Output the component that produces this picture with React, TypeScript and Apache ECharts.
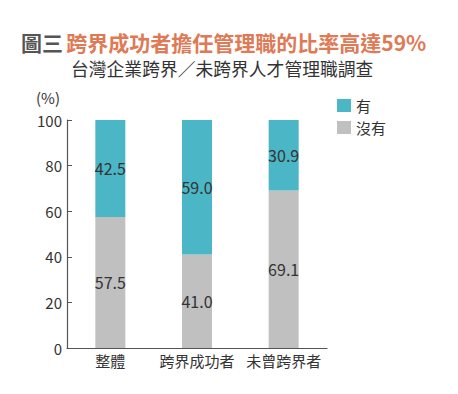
import React, { useEffect, useRef } from "react";
import * as echarts from "echarts";

const categories = ["整體", "跨界成功者", "未曾跨界者"];
const noValues = [57.5, 41.0, 69.1];
const yesValues = [42.5, 59.0, 30.9];
const yTicks = [0, 20, 40, 60, 80, 100];
const titleLead = "圖三";
const titleMain = "跨界成功者擔任管理職的比率高達59%";
const subtitle = "台灣企業跨界／未跨界人才管理職調查";
const unitLabel = "(%)";

const FONT = "'Noto Sans CJK TC', 'Noto Sans', sans-serif";
const TEAL = "#4BB6C5";
const GRAY = "#C0C0C0";
const TEXT = "#333333";

export default function App() {
  const ref = useRef<HTMLDivElement>(null);
  useEffect(() => {
    if (!ref.current) return;
    const chart = echarts.init(ref.current, null, { renderer: "svg" });
    chart.setOption({
      animation: false,
      backgroundColor: "#ffffff",
      textStyle: { fontFamily: FONT },
      graphic: [
        {
          type: "text",
          left: 21,
          top: 31,
          style: {
            text: `{a|${titleLead}} {b|${titleMain}}`,
            rich: {
              a: { fontSize: 21, fontWeight: "bold", fill: "#555555", fontFamily: FONT },
              b: { fontSize: 21, fontWeight: "bold", fill: "#DE7A55", fontFamily: FONT },
            },
          },
        },
        {
          type: "text",
          left: 71,
          top: 59,
          style: { text: subtitle, fontSize: 17.8, fill: TEXT, fontFamily: FONT },
        },
        {
          type: "text",
          left: 36,
          top: 90,
          style: { text: unitLabel, fontSize: 15, fill: TEXT, fontFamily: FONT },
        },
      ],
      legend: {
        orient: "vertical",
        left: 332,
        top: 93,
        icon: "rect",
        itemWidth: 14,
        itemHeight: 13,
        itemGap: 7,
        textStyle: { fontSize: 15, color: TEXT, fontFamily: FONT },
        data: ["有", "沒有"],
      },
      grid: { left: 67, right: 131, top: 120, bottom: 46, containLabel: false },
      xAxis: {
        type: "category",
        data: categories,
        axisLine: { lineStyle: { color: "#555555", width: 1.2 } },
        axisTick: { inside: true, length: 5, alignWithLabel: false, lineStyle: { color: "#555555" } },
        axisLabel: { interval: 0, fontSize: 15, color: TEXT, margin: 5, fontFamily: FONT },
      },
      yAxis: {
        type: "value",
        min: 0,
        max: 100,
        interval: 20,
        axisLine: { show: true, lineStyle: { color: "#555555", width: 1.2 } },
        axisTick: { show: true, inside: true, length: 5, lineStyle: { color: "#555555" } },
        splitLine: { show: false },
        axisLabel: {
          fontSize: 15,
          color: TEXT,
          margin: 5,
          fontFamily: FONT,
          formatter: (v: number) => (yTicks.includes(v) ? String(v) : ""),
        },
      },
      series: [
        {
          name: "沒有",
          type: "bar",
          stack: "total",
          barWidth: 30,
          data: noValues,
          itemStyle: { color: GRAY },
          label: {
            show: true,
            position: "inside",
            fontSize: 16,
            color: TEXT,
            fontFamily: FONT,
            formatter: (p: any) => Number(p.value).toFixed(1),
          },
        },
        {
          name: "有",
          type: "bar",
          stack: "total",
          barWidth: 30,
          data: yesValues,
          itemStyle: { color: TEAL },
          label: {
            show: true,
            position: "inside",
            fontSize: 16,
            color: TEXT,
            fontFamily: FONT,
            formatter: (p: any) => Number(p.value).toFixed(1),
          },
        },
      ],
    });
    return () => chart.dispose();
  }, []);
  return (
    <div
      ref={ref}
      style={{ position: "fixed", left: 0, top: 0, width: 458, height: 394, background: "#fff" }}
    />
  );
}
